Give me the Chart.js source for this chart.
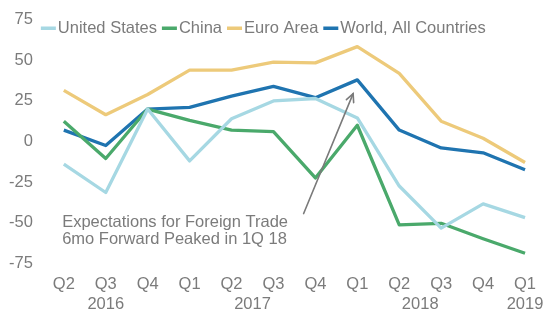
<!DOCTYPE html>
<html>
<head>
<meta charset="utf-8">
<script src="https://cdn.jsdelivr.net/npm/chart.js@4.4.1/dist/chart.umd.min.js"></script>
<style>
  html, body { margin: 0; padding: 0; background: #ffffff; }
  #wrap { width: 550px; height: 321px; position: relative; }
</style>
</head>
<body>
<div id="wrap"><canvas id="c"></canvas></div>
<script>
// Quarterly survey balances, Q2 2016 – Q1 2019
const quarters = ['Q2', 'Q3', 'Q4', 'Q1', 'Q2', 'Q3', 'Q4', 'Q1', 'Q2', 'Q3', 'Q4', 'Q1'];
const years = ['2016', '2017', '2018', '2019'];
const yearCenters = [1, 4.5, 8.5, 11];   // middle of each year's quarters (category index)

const unitedStates = [-14, -31.5, 20, -12, 14, 25, 26.5, 14.5, -27.5, -53.5, -38.5, -47];
const china        = [12.5, -10.5, 20, 13, 7, 6, -22.5, 10, -51.5, -50.5, -60, -69];
const euroArea     = [31.5, 16.5, 29, 44, 44, 49, 48.5, 58.5, 42, 12.5, 2, -13];
const world        = [7, -2.5, 20, 21, 28, 34, 27, 38, 7, -4, -7, -17.5];

const yTicks = [-75, -50, -25, 0, 25, 50, 75];

const seriesNames = ['United States', 'China', 'Euro Area', 'World, All Countries'];

const noteLines = ['Expectations for Foreign Trade', '6mo Forward Peaked in 1Q 18'];

const FONT = '"Liberation Sans", Arial, sans-serif';
const GREY = '#7b7b7b';
const COLORS = ['#a6d8e3', '#4aa96b', '#edca7a', '#1f74b0'];

// callout placement, in category index / value units
const note = {
  textAt: { x: -0.04, y: -50 },
  lineGap: 16.5,
  arrowFrom: { x: 5.72, y: -44.5 },
  arrowTo: { x: 6.9, y: 29.5 }
};

const legendInside = {
  id: 'legendInside',
  afterDraw(chart) {
    const ctx = chart.ctx;
    ctx.save();
    ctx.font = '16.5px ' + FONT;
    ctx.textBaseline = 'middle';
    let x = chart.chartArea.left - 2;
    const y = 28;
    chart.data.datasets.forEach((ds) => {
      ctx.fillStyle = ds.borderColor;
      ctx.fillRect(x, y - 1.5, 15, 3.5);
      x += 17;
      ctx.fillStyle = GREY;
      ctx.textAlign = 'left';
      ctx.fillText(ds.label, x, y);
      x += ctx.measureText(ds.label).width + 5;
    });
    ctx.restore();
  }
};

const callout = {
  id: 'callout',
  afterDatasetsDraw(chart) {
    const ctx = chart.ctx;
    const xs = chart.scales.x2, ys = chart.scales.y;
    ctx.save();
    // text
    ctx.font = '16.5px ' + FONT;
    ctx.fillStyle = GREY;
    ctx.textAlign = 'left';
    ctx.textBaseline = 'middle';
    const tx = xs.getPixelForValue(note.textAt.x);
    const ty = ys.getPixelForValue(note.textAt.y);
    noteLines.forEach((t, i) => ctx.fillText(t, tx, ty + i * note.lineGap));
    // arrow
    const x0 = xs.getPixelForValue(note.arrowFrom.x), y0 = ys.getPixelForValue(note.arrowFrom.y);
    const x1 = xs.getPixelForValue(note.arrowTo.x), y1 = ys.getPixelForValue(note.arrowTo.y);
    ctx.strokeStyle = '#7a7a7a';
    ctx.lineWidth = 1.6;
    ctx.lineCap = 'round';
    ctx.beginPath();
    ctx.moveTo(x0, y0);
    ctx.lineTo(x1, y1);
    ctx.stroke();
    const a = Math.atan2(y1 - y0, x1 - x0);
    const L = 9, w = 0.45;
    ctx.beginPath();
    ctx.moveTo(x1 - L * Math.cos(a - w), y1 - L * Math.sin(a - w));
    ctx.lineTo(x1, y1);
    ctx.lineTo(x1 - L * Math.cos(a + w), y1 - L * Math.sin(a + w));
    ctx.stroke();
    ctx.restore();
  }
};

const seriesData = [unitedStates, china, euroArea, world];

new Chart(document.getElementById('c'), {
  type: 'line',
  data: {
    labels: quarters,
    datasets: seriesData.map((d, i) => ({
      label: seriesNames[i],
      data: d,
      borderColor: COLORS[i],
      backgroundColor: COLORS[i],
      borderWidth: 3.3,
      pointRadius: 0,
      tension: 0,
      borderJoinStyle: 'round',
      fill: false
    }))
  },
  options: {
    responsive: true,
    maintainAspectRatio: false,
    animation: false,
    layout: { padding: { left: -1, right: 4, top: 16, bottom: 7 } },
    plugins: { legend: { display: false }, tooltip: { enabled: false } },
    scales: {
      x: {
        type: 'category',
        offset: true,
        weight: 0,
        grid: { display: false, drawTicks: false },
        border: { display: false },
        afterFit(axis) { axis.height = 31; },
        ticks: { color: GREY, font: { family: FONT, size: 16.5 }, padding: 12, maxRotation: 0, autoSkip: false }
      },
      x2: {
        type: 'linear',
        position: 'bottom',
        weight: 1,
        min: -0.5,
        max: 11.5,
        grid: { display: false, drawTicks: false },
        border: { display: false },
        afterFit(axis) { axis.height = 20; },
        afterBuildTicks(axis) { axis.ticks = yearCenters.map(v => ({ value: v })); },
        ticks: {
          color: GREY,
          font: { family: FONT, size: 16.5 },
          padding: 1,
          maxRotation: 0,
          autoSkip: false,
          callback(v) { const k = yearCenters.indexOf(v); return k >= 0 ? years[k] : ''; }
        }
      },
      y: {
        min: -75,
        max: 75,
        grid: { display: false, drawTicks: false },
        border: { display: false },
        afterBuildTicks(axis) { axis.ticks = yTicks.map(v => ({ value: v })); },
        ticks: { color: GREY, font: { family: FONT, size: 16.5 }, padding: 10 }
      }
    }
  },
  plugins: [legendInside, callout]
});
</script>
</body>
</html>
